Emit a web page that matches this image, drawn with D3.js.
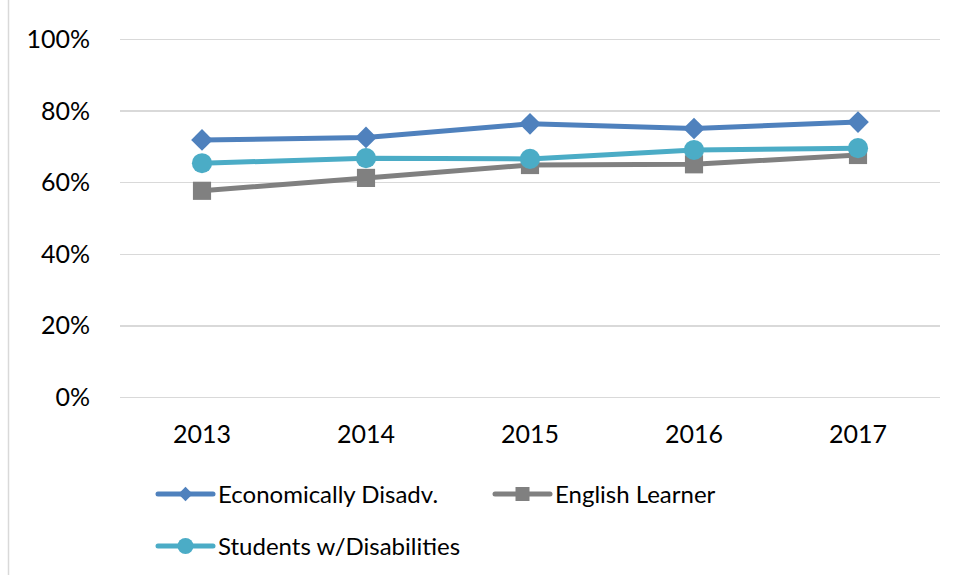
<html>
  <body style="margin:0;background:#fff;">
    <style>
      .grid line { stroke: #d9d9d9; stroke-width: 1.5; shape-rendering: crispEdges; }
      .grid path { stroke-width: 0; }
      text { font-family: Lato, "Open Sans", sans-serif; fill: #000; }
    </style>
    <div id="chart"></div>
    <script src="https://d3js.org/d3.v7.min.js"></script>
    <script type="text/javascript">
      var years = ["2013", "2014", "2015", "2016", "2017"];
      var yTicks = [0, 0.2, 0.4, 0.6, 0.8, 1.0];
      var econDisadv = [0.718, 0.725, 0.763, 0.750, 0.768];
      var englishLearner = [0.576, 0.612, 0.648, 0.650, 0.676];
      var studentsDisab = [0.653, 0.667, 0.665, 0.690, 0.695];
      var seriesNames = ["Economically Disadv.", "English Learner", "Students w/Disabilities"];

      var series = [
        { name: seriesNames[0], values: econDisadv, color: "#4f81bd", symbol: d3.symbolDiamond2, size: 300, lsize: 130 },
        { name: seriesNames[1], values: englishLearner, color: "#808080", symbol: d3.symbolSquare2, size: 420, lsize: 250 },
        { name: seriesNames[2], values: studentsDisab, color: "#4bacc6", symbol: d3.symbolCircle, size: 320, lsize: 200 }
      ];

      var W = 956, H = 575;
      var margin = {top: 39, right: 16, bottom: 178, left: 120};
      var width = W - margin.left - margin.right,
          height = H - margin.top - margin.bottom;

      var svg = d3.select("#chart").append("svg")
        .attr("width", W).attr("height", H);

      // outer chart border
      svg.append("rect")
        .attr("x", 8.5).attr("y", -2).attr("width", W).attr("height", H + 4)
        .attr("fill", "none").attr("stroke", "#d9d9d9").attr("stroke-width", 1.5);

      var g = svg.append("g")
        .attr("transform", "translate(" + margin.left + "," + margin.top + ")");

      var x = d3.scaleBand().domain(years).range([0, width]);
      var y = d3.scaleLinear().domain([0, 1]).range([height, 0]);

      // gridlines
      g.append("g")
        .attr("class", "grid")
        .call(d3.axisLeft(y).tickValues(yTicks).tickSize(-width).tickFormat(""));

      // y labels
      g.append("g")
        .selectAll("text").data(yTicks).enter().append("text")
        .attr("x", -30).attr("y", function(d) { return y(d); })
        .attr("dy", "0.36em")
        .attr("text-anchor", "end")
        .style("font-size", "25px")
        .text(function(d) { return d3.format(".0%")(d); });

      // x labels
      g.append("g")
        .selectAll("text").data(years).enter().append("text")
        .attr("x", function(d) { return x(d) + x.bandwidth() / 2; })
        .attr("y", height + 46)
        .attr("text-anchor", "middle")
        .style("font-size", "25px")
        .text(function(d) { return d; });

      var line = d3.line()
        .x(function(d, i) { return x(years[i]) + x.bandwidth() / 2; })
        .y(function(d) { return y(d); });

      series.forEach(function(s) {
        g.append("path")
          .datum(s.values)
          .attr("fill", "none")
          .attr("stroke", s.color)
          .attr("stroke-width", 5)
          .attr("stroke-linejoin", "round")
          .attr("d", line);

        g.selectAll(null).data(s.values).enter().append("path")
          .attr("transform", function(d, i) {
            return "translate(" + (x(years[i]) + x.bandwidth() / 2) + "," + y(d) + ")";
          })
          .attr("d", d3.symbol().type(s.symbol).size(s.size))
          .attr("fill", s.color);
      });

      // legend
      var legendPos = [[158, 494], [495, 494], [158, 546]];
      series.forEach(function(s, i) {
        var lg = svg.append("g")
          .attr("transform", "translate(" + legendPos[i][0] + "," + legendPos[i][1] + ")");
        lg.append("line")
          .attr("x1", 0).attr("x2", 55).attr("y1", 0).attr("y2", 0)
          .attr("stroke", s.color).attr("stroke-width", 5)
          .attr("stroke-linecap", "round");
        lg.append("path")
          .attr("transform", "translate(27.5,0)")
          .attr("d", d3.symbol().type(s.symbol).size(s.lsize))
          .attr("fill", s.color);
        lg.append("text")
          .attr("x", 60).attr("y", 0).attr("dy", "0.36em")
          .style("font-size", "24px")
          .text(s.name);
      });
    </script>
  </body>
</html>
